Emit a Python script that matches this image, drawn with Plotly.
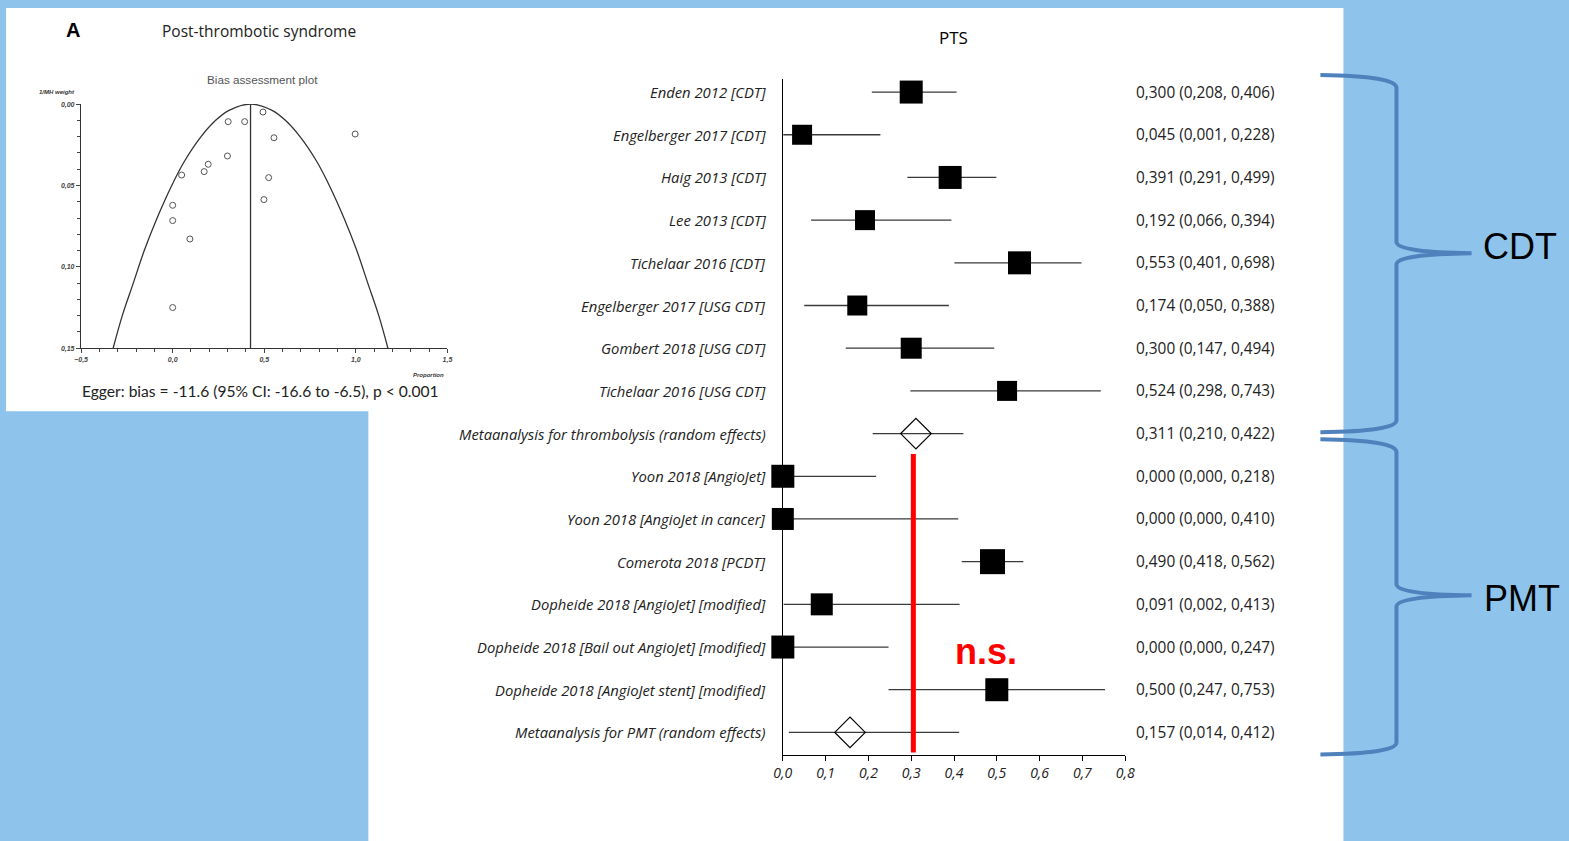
import plotly.graph_objects as go

# Figure size (slightly larger than the 1569x841 target so it covers the whole photo)
FW, FH = 1590, 852
# measured mapping of the photographed page: photo = off + scale * figure_px
SX, OXp = 0.987, 9.0
SY, OYp = 0.990, 4.0

# ---------------- Forest plot data ----------------
labels = [
    "Enden 2012 [CDT]",
    "Engelberger 2017 [CDT]",
    "Haig 2013 [CDT]",
    "Lee 2013 [CDT]",
    "Tichelaar 2016 [CDT]",
    "Engelberger 2017 [USG CDT]",
    "Gombert 2018 [USG CDT]",
    "Tichelaar 2016 [USG CDT]",
    "Metaanalysis for thrombolysis (random effects)",
    "Yoon 2018 [AngioJet]",
    "Yoon 2018 [AngioJet in cancer]",
    "Comerota 2018 [PCDT]",
    "Dopheide 2018 [AngioJet] [modified]",
    "Dopheide 2018 [Bail out AngioJet] [modified]",
    "Dopheide 2018 [AngioJet stent] [modified]",
    "Metaanalysis for PMT (random effects)",
]
est = [0.300, 0.045, 0.391, 0.192, 0.553, 0.174, 0.300, 0.524, 0.311,
       0.000, 0.000, 0.490, 0.091, 0.000, 0.500, 0.157]
lo = [0.208, 0.001, 0.291, 0.066, 0.401, 0.050, 0.147, 0.298, 0.210,
      0.000, 0.000, 0.418, 0.002, 0.000, 0.247, 0.014]
hi = [0.406, 0.228, 0.499, 0.394, 0.698, 0.388, 0.494, 0.743, 0.422,
      0.218, 0.410, 0.562, 0.413, 0.247, 0.753, 0.412]
is_meta = [False] * 8 + [True] + [False] * 6 + [True]
weights_px = [23, 20, 23, 20, 23, 20, 21, 20, 0, 23, 22, 25, 22, 23, 23, 0]
forest_ticks = [0.0, 0.1, 0.2, 0.3, 0.4, 0.5, 0.6, 0.7, 0.8]
red_line_x = 0.305
red_line_rows = (9.48, 16.47)

# ---------------- Funnel (bias assessment) data ----------------
funnel_x = [0.493, 0.303, 0.393, 0.553, 0.996, 0.299, 0.194, 0.172,
            0.049, 0.524, 0.498, 0.000, 0.000, 0.094, 0.000]
funnel_y = [0.0049, 0.0108, 0.0108, 0.0207, 0.0184, 0.0319, 0.0370, 0.0415,
            0.0436, 0.0452, 0.0587, 0.0622, 0.0716, 0.0829, 0.1250]
funnel_pooled = 0.425
curve_y_left = [0.15, 0.13, 0.11, 0.09, 0.07, 0.05, 0.035, 0.02, 0.01, 0.004, 0.0]
curve_x_left = [-0.325, -0.275, -0.215, -0.155, -0.085, -0.005, 0.065, 0.155, 0.235, 0.305, 0.425]
curve_y_right = [0.004, 0.01, 0.02, 0.035, 0.05, 0.07, 0.09, 0.11, 0.13, 0.15]
curve_x_right = [0.545, 0.615, 0.695, 0.785, 0.855, 0.935, 1.005, 1.065, 1.125, 1.175]
funnel_xticks = [-0.5, 0.0, 0.5, 1.0, 1.5]
funnel_yticks = [0.0, 0.05, 0.10, 0.15]


def PX(x):
    return ((x - OXp) / SX) / FW


def PY(y):
    return 1 - ((y - OYp) / SY) / FH


def fmt(v):
    return f"{v:.3f}".replace(".", ",")


rows = list(range(1, len(labels) + 1))
fig = go.Figure()

# studies (squares)
s_idx = [i for i in range(len(labels)) if not is_meta[i]]
fig.add_trace(go.Scatter(
    x=[est[i] for i in s_idx], y=[rows[i] for i in s_idx],
    mode="markers", cliponaxis=False,
    marker=dict(symbol="square", size=[weights_px[i] for i in s_idx], color="black",
                opacity=1, line=dict(width=0)),
    error_x=dict(type="data", symmetric=False,
                 array=[hi[i] - est[i] for i in s_idx],
                 arrayminus=[est[i] - lo[i] for i in s_idx],
                 width=0, color="#3a3a3a", thickness=1.3),
    xaxis="x", yaxis="y", hoverinfo="skip", showlegend=False,
))
# meta-analyses (diamonds)
m_idx = [i for i in range(len(labels)) if is_meta[i]]
fig.add_trace(go.Scatter(
    x=[est[i] for i in m_idx], y=[rows[i] for i in m_idx],
    mode="markers", cliponaxis=False,
    marker=dict(symbol="diamond-open", size=23.5, color="black", opacity=1,
                line=dict(width=1.2, color="black")),
    error_x=dict(type="data", symmetric=False,
                 array=[hi[i] - est[i] for i in m_idx],
                 arrayminus=[est[i] - lo[i] for i in m_idx],
                 width=0, color="#3a3a3a", thickness=1.3),
    xaxis="x", yaxis="y", hoverinfo="skip", showlegend=False,
))

# funnel curve
fig.add_trace(go.Scatter(
    x=curve_x_left + curve_x_right, y=curve_y_left + curve_y_right,
    mode="lines", line=dict(color="#333", width=1.3, shape="spline"),
    xaxis="x2", yaxis="y2", hoverinfo="skip", showlegend=False,
))
fig.add_trace(go.Scatter(
    x=[funnel_pooled, funnel_pooled], y=[0.0, 0.15],
    mode="lines", line=dict(color="#333", width=1.3),
    xaxis="x2", yaxis="y2", hoverinfo="skip", showlegend=False,
))
fig.add_trace(go.Scatter(
    x=funnel_x, y=funnel_y, mode="markers", cliponaxis=False,
    marker=dict(symbol="circle-open", size=6, color="#555", opacity=1, line=dict(width=1)),
    xaxis="x2", yaxis="y2", hoverinfo="skip", showlegend=False,
))

shapes = []
# white panels
shapes.append(dict(type="rect", xref="paper", yref="paper", layer="below",
                   x0=PX(6), x1=PX(1342), y0=PY(411), y1=PY(8),
                   fillcolor="white", line=dict(width=0)))
shapes.append(dict(type="rect", xref="paper", yref="paper", layer="below",
                   x0=PX(368), x1=PX(1342), y0=PY(860), y1=PY(410),
                   fillcolor="white", line=dict(width=0)))
# red line
shapes.append(dict(type="line", xref="x", yref="y", x0=red_line_x, x1=red_line_x,
                   y0=red_line_rows[0], y1=red_line_rows[1],
                   line=dict(color="#FF0000", width=5)))


def brace(pts):
    out = []
    for cmd, coords in pts:
        s = cmd
        for (a, b) in coords:
            s += f" {PX(a):.5f},{PY(b):.5f}"
        out.append(s)
    return " ".join(out)


cdt = brace([("M", [(1319, 75)]), ("Q", [(1395, 76), (1395, 88)]), ("L", [(1395, 242)]),
             ("Q", [(1396, 252), (1470, 253)]), ("Q", [(1396, 254), (1395, 264)]),
             ("L", [(1395, 420)]), ("Q", [(1395, 431), (1319, 432)])])
pmt = brace([("M", [(1319, 439)]), ("Q", [(1395, 440), (1395, 452)]), ("L", [(1395, 584)]),
             ("Q", [(1396, 594), (1470, 595)]), ("Q", [(1396, 596), (1395, 606)]),
             ("L", [(1395, 742)]), ("Q", [(1395, 753), (1319, 754)])])
for p in (cdt, pmt):
    shapes.append(dict(type="path", xref="paper", yref="paper", path=p,
                       line=dict(color="#4F81BD", width=4)))

ann = []
for i, lab in enumerate(labels):
    ann.append(dict(x=PX(767), y=rows[i], xref="paper", yref="y", text=lab,
                    xanchor="right", yanchor="middle", showarrow=False,
                    font=dict(family="Open Sans", size=14.8, color="#222", style="italic")))
    ann.append(dict(x=PX(1133), y=rows[i], xref="paper", yref="y",
                    text=f"{fmt(est[i])} ({fmt(lo[i])}, {fmt(hi[i])})",
                    xanchor="left", yanchor="middle", showarrow=False,
                    font=dict(family="Open Sans", size=15.4, color="#222")))


def txt(x, y, t, size, family="Open Sans", color="black", **kw):
    font = dict(family=family, size=size, color=color)
    font.update(kw.pop("font", {}))
    d = dict(x=PX(x), y=PY(y), xref="paper", yref="paper", text=t, showarrow=False,
             xanchor=kw.pop("xanchor", "center"), yanchor="middle", font=font)
    d.update(kw)
    return d


ann.append(txt(952, 37, "PTS", 17))
ann.append(txt(985, 651, "n.s.", 36, family="Liberation Sans", color="#FF0000",
               font=dict(weight="bold")))
ann.append(txt(1518, 246, "CDT", 36, family="Liberation Sans"))
ann.append(txt(1520, 598, "PMT", 36, family="Liberation Sans"))
ann.append(txt(73, 30, "A", 20, family="Liberation Sans", font=dict(weight="bold")))
ann.append(txt(259, 31, "Post-thrombotic syndrome", 15.5, color="#222"))
ann.append(txt(262, 79, "Bias assessment plot", 11.7, family="Liberation Sans", color="#555"))
ann.append(txt(57, 92, "1/MH weight", 6, family="Liberation Sans", color="#333",
               font=dict(weight="bold", style="italic")))
ann.append(txt(428, 375, "Proportion", 6, family="Liberation Sans", color="#333",
               font=dict(weight="bold", style="italic")))
ann.append(txt(260, 391, "Egger: bias = -11.6 (95% CI: -16.6 to -6.5), p < 0.001", 15.6,
               family="Lato", color="#222"))

fig.update_layout(
    width=FW, height=FH, margin=dict(l=0, r=0, t=0, b=0, pad=0),
    paper_bgcolor="#8EC4EC", plot_bgcolor="rgba(0,0,0,0)",
    separators=", ",
    shapes=shapes, annotations=ann, showlegend=False,
    xaxis=dict(domain=[PX(782), PX(1124)], range=[0, 0.8], anchor="y",
               tickvals=forest_ticks, tickformat=".1f", ticks="outside", ticklen=5,
               tickcolor="black", showline=True, linecolor="black", linewidth=1,
               showgrid=False, zeroline=False,
               tickfont=dict(family="Open Sans", size=14, color="#222", style="italic")),
    yaxis=dict(domain=[PY(755), PY(79)], range=[16.54, 0.695], anchor="x",
               showline=True, linecolor="black", linewidth=1, showticklabels=False,
               ticks="", showgrid=False, zeroline=False),
    xaxis2=dict(domain=[PX(81), PX(447)], range=[-0.5, 1.5], anchor="y2",
                tickvals=funnel_xticks, tickformat=".1f", ticks="outside", ticklen=4,
                tickcolor="#444", showline=True, linecolor="#333", linewidth=1.3,
                showgrid=False, zeroline=False,
                minor=dict(dtick=0.1, tick0=-0.5, ticks="outside", ticklen=3, tickcolor="#444"),
                tickfont=dict(family="Liberation Sans", size=7, color="#444", weight="bold",
                              style="italic")),
    yaxis2=dict(domain=[PY(348), PY(104)], range=[0.15, 0.0], anchor="x2",
                tickvals=funnel_yticks, tickformat=".2f", ticks="outside", ticklen=4,
                tickcolor="#444", showline=True, linecolor="#333", linewidth=1.3,
                showgrid=False, zeroline=False,
                minor=dict(dtick=0.01, tick0=0, ticks="outside", ticklen=3, tickcolor="#444"),
                tickfont=dict(family="Liberation Sans", size=7, color="#444", weight="bold",
                              style="italic")),
)

fig.write_html("out.html")
